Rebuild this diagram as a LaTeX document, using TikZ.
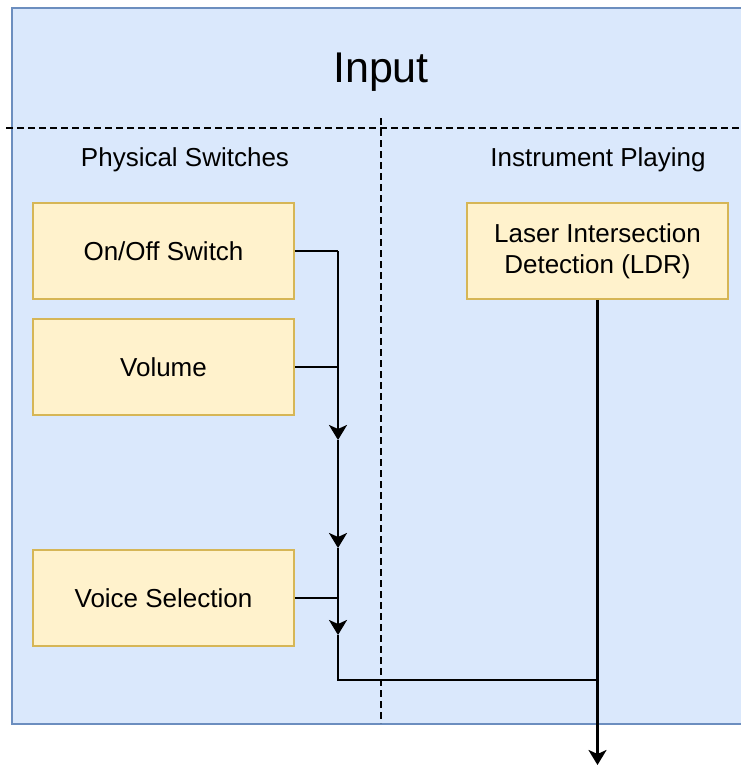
\documentclass[tikz,border=0pt]{standalone}
\usepackage{fontspec}
\setmainfont{Liberation Sans}
\usetikzlibrary{positioning,arrows.meta}
\definecolor{inputfill}{HTML}{DAE8FC}
\definecolor{inputline}{HTML}{6C8EBF}
\definecolor{boxfill}{HTML}{FFF2CC}
\definecolor{boxline}{HTML}{D6B656}

\begin{document}
\begin{tikzpicture}[x=0.5pt, y=-0.5pt, node distance=9pt,
    block/.style={draw=boxline, fill=boxfill, line width=0.9pt, rectangle, minimum width=130.5pt, minimum height=48pt, align=center, font=\fontsize{13}{15.5}\selectfont},
    heading/.style={font=\fontsize{13}{15.5}\selectfont},
    wire/.style={line width=1.3pt},
    flow/.style={wire, -{Stealth[length=7.5pt, width=9pt, inset=2pt]}},
    divider/.style={line width=0.9pt, dash pattern=on 3.5pt off 2pt}]
    \useasboundingbox (0,0) rectangle (740,766);

    % container
    \node [draw=inputline, fill=inputfill, line width=1pt, rectangle, minimum width=374.5pt, minimum height=358pt, anchor=north west, inner sep=0pt] (input) at (11,7) {};
    \node [font=\fontsize{21.5}{26}\selectfont] (title) at (381,72) {Input};
    \draw [divider] (6,128) -- (750,128);
    \draw [divider] (381,118) -- (381,723);

    \node [heading] (physical) at (185,160) {Physical Switches};
    \node [heading] (playing) at (598,160) {Instrument Playing};

    \node [block] (onoff) at (163.5,251) {On/Off Switch};
    \node [block, below=of onoff] (volume) {Volume};
    \node [block] (voice) at (163.5,598) {Voice Selection};
    \node [block] (laser) at (597.5,251) {Laser Intersection\\Detection (LDR)};

    \coordinate (bend1) at (338,251);
    \coordinate (tip1) at (338,440);
    \coordinate (tip2) at (338,548);
    \coordinate (tip3) at (338,635);
    \coordinate (corner) at (338,680);
    \coordinate (merge) at (laser.south |- corner);
    \coordinate (out) at (597.5,765);

    \draw [wire] (onoff.east) -- (bend1);
    \draw [flow] (bend1) -- (tip1);
    \draw [wire] (volume.east) -- (volume.east -| tip1);
    \draw [flow] (tip1) -- (tip2);
    \draw [wire] (voice.east) -- (voice.east -| tip2);
    \draw [flow] (tip2) -- (tip3);
    \draw [wire] (tip3) -- (corner) -- (merge);
    \draw [flow] (laser.south) -- (out);
\end{tikzpicture}
\end{document}
